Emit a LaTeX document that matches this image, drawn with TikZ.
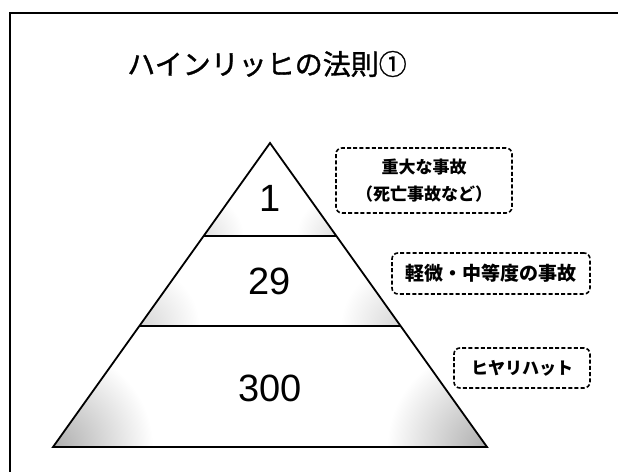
\documentclass[tikz,border=0pt]{standalone}
\usepackage{fontspec}
\setmainfont{Liberation Sans}
\newfontfamily\jp{Noto Sans CJK JP}
\newfontfamily\jpt[FakeBold=1.2]{Noto Sans CJK JP}
\tikzset{
  frameline/.style={line width=2pt, line cap=rect},
  pyr/.style={line width=1.8pt, line join=miter},
  band/.style={line width=2pt},
  num/.style={font=\fontsize{38}{40}\selectfont, inner sep=0pt},
  lbl/.style={draw, dash pattern=on 4pt off 2.2pt, line width=1.6pt, rounded corners=6pt,
              font=\jp\bfseries\fontsize{17}{27}\selectfont, align=center, inner sep=0pt},
}
\begin{document}
\begin{tikzpicture}[x=1pt,y=-1pt]
\useasboundingbox (0,0) rectangle (618,471);
% frame
\draw[frameline] (10,471) -- (10,13) -- (618,13);
% title
\node[font=\jpt\fontsize{28}{30}\selectfont, inner sep=0pt] (title) at (267,64) {ハインリッヒの法則①};
% pyramid coordinates
\coordinate (A) at (270,143);
\coordinate (L) at (53,447);
\coordinate (R) at (487,447);
\coordinate (L1) at (203.6,236);
\coordinate (R1) at (336.4,236);
\coordinate (L2) at (139.4,326);
\coordinate (R2) at (400.6,326);
% stipple-like shading
\begin{scope}
\clip (A) -- (L) -- (R) -- cycle;
\begin{scope}
\clip (L2) -- (R2) -- (R) -- (L) -- cycle;
\shade[inner color=black!32, outer color=white] (L) circle (100);
\shade[inner color=black!32, outer color=white] (R) circle (100);
\end{scope}
\begin{scope}
\clip (L1) -- (R1) -- (R2) -- (L2) -- cycle;
\shade[inner color=black!16, outer color=white] (L2) circle (60);
\shade[inner color=black!16, outer color=white] (R2) circle (60);
\end{scope}
\begin{scope}
\clip (A) -- (R1) -- (L1) -- cycle;
\shade[inner color=black!12, outer color=white] (L1) circle (40);
\shade[inner color=black!12, outer color=white] (R1) circle (40);
\end{scope}
\end{scope}
\draw[pyr] (A) -- (L) -- (R) -- cycle;
\draw[band] (L1) -- (R1);
\draw[band] (L2) -- (R2);
% numbers
\node[num] (n1) at (270,198) {1};
\node[num] (n29) at (270,281) {29};
\node[num] (n300) at (270,388) {300};
% labels
\node[lbl, minimum width=176pt, minimum height=65pt] (b1) at (424,180.5) {重大な事故\\（死亡事故など）};
\node[lbl, minimum width=198pt, minimum height=41pt, font=\jp\bfseries\fontsize{19}{22}\selectfont] (b2) at (491,273.5) {軽微・中等度の事故};
\node[lbl, minimum width=136pt, minimum height=40pt] (b3) at (522,368) {ヒヤリハット};
\end{tikzpicture}
\end{document}
